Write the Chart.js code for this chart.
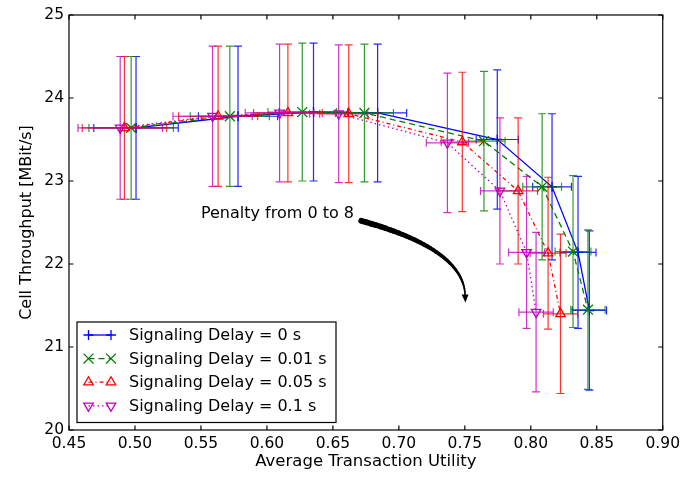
<!DOCTYPE html>
<html>
<head>
<meta charset="utf-8">
<script src="https://cdn.jsdelivr.net/npm/chart.js@4.4.0/dist/chart.umd.min.js"></script>
<style>
  html, body { margin: 0; padding: 0; background: #fff; }
</style>
</head>
<body>
<canvas id="myChart" width="685" height="489"></canvas>
<script>
// series names
const delayLabels = [
  "Signaling Delay = 0 s",
  "Signaling Delay = 0.01 s",
  "Signaling Delay = 0.05 s",
  "Signaling Delay = 0.1 s"
];

// average transaction utility (x) and cell throughput (y), penalty 0..8
const utilDelay0 = [0.5008, 0.5781, 0.6353, 0.6839, 0.7746, 0.8161, 0.8358, 0.8444];
const thrDelay0 = [23.64, 23.78, 23.83, 23.82, 23.50, 22.93, 22.14, 21.44];
const utilDelay001 = [0.4971, 0.5719, 0.6268, 0.6739, 0.7645, 0.8086, 0.8320, 0.8433];
const thrDelay001 = [23.64, 23.78, 23.83, 23.82, 23.48, 22.93, 22.15, 21.45];
const utilDelay005 = [0.4920, 0.5630, 0.6159, 0.6620, 0.7481, 0.7904, 0.8131, 0.8225];
const thrDelay005 = [23.64, 23.78, 23.82, 23.81, 23.47, 22.88, 22.13, 21.40];
const utilDelay01 = [0.4888, 0.5588, 0.6096, 0.6544, 0.7368, 0.7766, 0.7968, 0.8040];
const thrDelay01 = [23.64, 23.78, 23.82, 23.81, 23.46, 22.88, 22.14, 21.42];

// error bars (same for each penalty step)
const utilErr = [0.032, 0.030, 0.026, 0.022, 0.016, 0.0147, 0.0136, 0.013];
const thrErr = [0.86, 0.845, 0.83, 0.83, 0.84, 0.88, 0.915, 0.96];

// axis ticks
const xTicks = [0.45, 0.50, 0.55, 0.60, 0.65, 0.70, 0.75, 0.80, 0.85, 0.90];
const yTicks = [20, 21, 22, 23, 24, 25];

const FONT = "'DejaVu Sans', sans-serif";

function toPoints(xs, ys) {
  return xs.map((x, i) => ({ x: x, y: ys[i], xe: utilErr[i], ye: thrErr[i] }));
}

const styles = [
  { color: "#0000ff", err: "rgba(0,0,255,0.85)", dash: [], pointStyle: "cross", radius: 5, rotation: 0 },
  { color: "#008000", err: "rgba(0,128,0,0.8)", dash: [6, 4], pointStyle: "crossRot", radius: 7, rotation: 0 },
  { color: "#ff0000", err: "rgba(255,0,0,0.8)", dash: [4, 3, 1, 3], pointStyle: "triangle", radius: 5.5, rotation: 0 },
  { color: "#bf00bf", err: "rgba(191,0,191,0.8)", dash: [1.5, 3], pointStyle: "triangle", radius: 5.5, rotation: 180 }
];

const seriesData = [
  toPoints(utilDelay0, thrDelay0),
  toPoints(utilDelay001, thrDelay001),
  toPoints(utilDelay005, thrDelay005),
  toPoints(utilDelay01, thrDelay01)
];

const datasets = seriesData.map((pts, i) => ({
  label: delayLabels[i],
  data: pts,
  showLine: true,
  borderColor: styles[i].color,
  borderWidth: 1.3,
  borderDash: styles[i].dash,
  pointStyle: styles[i].pointStyle,
  pointRadius: styles[i].radius,
  pointRotation: styles[i].rotation,
  pointBorderColor: styles[i].color,
  pointBackgroundColor: "rgba(0,0,0,0)",
  pointBorderWidth: 1.3,
  order: 4 - i
}));

// error bars drawn right before each dataset
const errorBars = {
  id: "errorBars",
  beforeDatasetDraw(chart, args) {
    const ctx = chart.ctx;
    const xs = chart.scales.x, ys = chart.scales.y;
    const st = styles[args.index];
    const cap = 4;
    ctx.save();
    ctx.strokeStyle = st.err;
    ctx.lineWidth = 1.2;
    ctx.setLineDash([]);
    chart.data.datasets[args.index].data.forEach((p) => {
      const px = xs.getPixelForValue(p.x);
      const py = ys.getPixelForValue(p.y);
      const x0 = xs.getPixelForValue(p.x - p.xe);
      const x1 = xs.getPixelForValue(p.x + p.xe);
      const y0 = ys.getPixelForValue(p.y - p.ye);
      const y1 = ys.getPixelForValue(p.y + p.ye);
      ctx.beginPath();
      ctx.moveTo(x0, py); ctx.lineTo(x1, py);
      ctx.moveTo(x0, py - cap); ctx.lineTo(x0, py + cap);
      ctx.moveTo(x1, py - cap); ctx.lineTo(x1, py + cap);
      ctx.moveTo(px, y0); ctx.lineTo(px, y1);
      ctx.moveTo(px - cap, y0); ctx.lineTo(px + cap, y0);
      ctx.moveTo(px - cap, y1); ctx.lineTo(px + cap, y1);
      ctx.stroke();
    });
    ctx.restore();
  }
};

// frame, inward ticks, annotation and legend
const decorations = {
  id: "decorations",
  afterDatasetsDraw(chart) {
    const ctx = chart.ctx;
    const a = chart.chartArea;
    const xs = chart.scales.x, ys = chart.scales.y;
    ctx.save();
    ctx.setLineDash([]);
    ctx.strokeStyle = "#000";
    ctx.lineWidth = 1.2;
    ctx.strokeRect(a.left, a.top, a.right - a.left, a.bottom - a.top);
    ctx.beginPath();
    xTicks.forEach((v) => {
      const x = xs.getPixelForValue(v);
      ctx.moveTo(x, a.bottom); ctx.lineTo(x, a.bottom - 4.5);
      ctx.moveTo(x, a.top); ctx.lineTo(x, a.top + 4.5);
    });
    yTicks.forEach((v) => {
      const y = ys.getPixelForValue(v);
      ctx.moveTo(a.left, y); ctx.lineTo(a.left + 4.5, y);
      ctx.moveTo(a.right, y); ctx.lineTo(a.right - 4.5, y);
    });
    ctx.stroke();

    // annotation "Penalty from 0 to 8" with curved arrow
    ctx.fillStyle = "#000";
    ctx.font = "16px " + FONT;
    ctx.textBaseline = "alphabetic";
    ctx.textAlign = "left";
    ctx.fillText("Penalty from 0 to 8", xs.getPixelForValue(0.55), ys.getPixelForValue(22.55));

    const sx = xs.getPixelForValue(0.6715), sy = ys.getPixelForValue(22.52);
    const cx = xs.getPixelForValue(0.7495), cy = ys.getPixelForValue(22.18);
    const ex = xs.getPixelForValue(0.7502), ey = ys.getPixelForValue(21.62);
    const n = 40;
    ctx.lineCap = "round";
    let prevX = sx, prevY = sy;
    for (let k = 1; k <= n; k++) {
      const t = k / n;
      const qx = (1 - t) * (1 - t) * sx + 2 * (1 - t) * t * cx + t * t * ex;
      const qy = (1 - t) * (1 - t) * sy + 2 * (1 - t) * t * cy + t * t * ey;
      ctx.lineWidth = 6 - 4.5 * t;
      ctx.beginPath();
      ctx.moveTo(prevX, prevY);
      ctx.lineTo(qx, qy);
      ctx.stroke();
      prevX = qx; prevY = qy;
    }
    ctx.beginPath();
    ctx.moveTo(ex - 3.5, ey - 1);
    ctx.lineTo(ex + 3.5, ey - 1);
    ctx.lineTo(ex + 0.3, ey + 7);
    ctx.closePath();
    ctx.fill();

    // legend
    const lx = a.left + 8, ly = a.bottom - 108, lw = 259, lh = 100.5;
    ctx.fillStyle = "#fff";
    ctx.fillRect(lx, ly, lw, lh);
    ctx.lineWidth = 1.2;
    ctx.strokeStyle = "#000";
    ctx.strokeRect(lx, ly, lw, lh);
    ctx.font = "16px " + FONT;
    ctx.textBaseline = "middle";
    delayLabels.forEach((label, i) => {
      const st = styles[i];
      const ry = ly + 13 + i * 23.6;
      const m0 = lx + 11.5, m1 = lx + 34;
      ctx.strokeStyle = st.color;
      ctx.lineWidth = 1.3;
      ctx.lineCap = "butt";
      ctx.setLineDash(st.dash);
      ctx.beginPath();
      ctx.moveTo(m0, ry); ctx.lineTo(m1, ry);
      ctx.stroke();
      ctx.setLineDash([]);
      ctx.fillStyle = "rgba(0,0,0,0)";
      [m0, m1].forEach((mx) => {
        Chart.helpers.drawPoint(ctx, {
          pointStyle: st.pointStyle, rotation: st.rotation,
          radius: st.radius, borderWidth: 1.3
        }, mx, ry);
      });
      ctx.fillStyle = "#000";
      ctx.fillText(label, lx + 52, ry + 1);
    });
    ctx.restore();
  }
};

function drawChart() {
  new Chart("myChart", {
    type: "scatter",
    data: { datasets: datasets },
    options: {
      responsive: false,
      animation: false,
      devicePixelRatio: 1,
      layout: { padding: { top: 15, right: 21, left: 0, bottom: 0 } },
      plugins: { legend: { display: false }, tooltip: { enabled: false } },
      scales: {
        x: {
          type: "linear",
          min: 0.45,
          max: 0.9,
          grid: { display: false, drawTicks: false },
          border: { display: false },
          afterFit: (s) => { s.height = 59; },
          afterBuildTicks: (s) => { s.ticks = xTicks.map((v) => ({ value: v })); },
          ticks: {
            padding: 5,
            color: "#000",
            font: { family: FONT, size: 15.5 },
            maxRotation: 0,
            callback: (v) => Number(v).toFixed(2)
          },
          title: {
            display: true,
            text: "Average Transaction Utility",
            color: "#000",
            font: { family: FONT, size: 16.5 },
            padding: { top: 0, bottom: 17 }
          }
        },
        y: {
          type: "linear",
          min: 20,
          max: 25,
          grid: { display: false, drawTicks: false },
          border: { display: false },
          afterFit: (s) => { s.width = 69; },
          afterBuildTicks: (s) => { s.ticks = yTicks.map((v) => ({ value: v })); },
          ticks: {
            padding: 5,
            color: "#000",
            font: { family: FONT, size: 15.5 },
            callback: (v) => String(v)
          },
          title: {
            display: true,
            text: "Cell Throughput [MBit/s]",
            color: "#000",
            font: { family: FONT, size: 16 },
            padding: { top: 17, bottom: 0 }
          }
        }
      }
    },
    plugins: [errorBars, decorations]
  });
}

document.addEventListener("DOMContentLoaded", drawChart);
</script>
</body>
</html>
